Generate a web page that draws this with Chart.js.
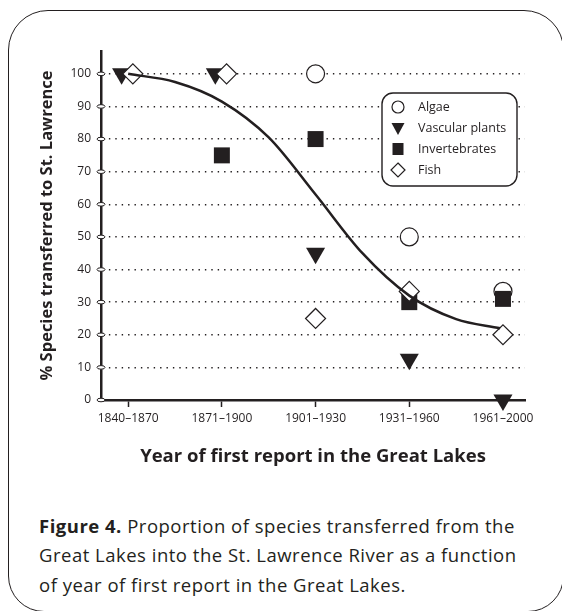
<!DOCTYPE html>
<html>
<head>
<meta charset="utf-8">
<script src="https://cdn.jsdelivr.net/npm/chart.js@4.4.0/dist/chart.umd.min.js"></script>
<style>
  body { margin: 0; background: #fff; }
  #wrap { position: relative; width: 562px; height: 611px; overflow: hidden; font-family: "Open Sans", sans-serif; color: #231f20; }
  #frame { position: absolute; left: 8px; top: 10px; width: 556px; height: 602px; border: 1.4px solid #231f20; border-radius: 40px 40px 36px 36px; box-sizing: border-box; }
  #chartBox { position: absolute; left: 0; top: 0; width: 562px; height: 480px; }
  #caption { position: absolute; left: 39px; top: 511px; margin: 0; font-size: 18.5px; letter-spacing: 0.5px; line-height: 29.3px; white-space: nowrap; }
</style>
</head>
<body>
<div id="wrap">
  <div id="frame"></div>
  <div id="chartBox"><canvas id="myChart" width="562" height="480"></canvas></div>
  <p id="caption"><b>Figure 4.</b> Proportion of species transferred from the<br>Great Lakes into the St. Lawrence River as a function<br>of year of first report in the Great Lakes.</p>
</div>
<script>
const categories = ['1840–1870', '1871–1900', '1901–1930', '1931–1960', '1961–2000']
const yTicks = [0, 10, 20, 30, 40, 50, 60, 70, 80, 90, 100]

// % of species transferred, per period (null = no point)
const algae = [null, null, 100, 50, 33.3]
const vascularPlants = [100, 100, 45, 12.5, 0]
const invertebrates = [null, 75, 80, 30, 31]
const fish = [100, 100, 25, 33.3, 20]

// small sideways nudges where markers overlap in the original
const vascularShift = [-0.07, -0.07, 0, 0, 0]
const fishShift = [0.05, 0.05, 0, 0, 0]

// fitted curve
const curveX = [0, 0.5, 1, 1.5, 2, 2.5, 3, 3.5, 3.97]
const curveY = [100, 97.5, 91.5, 80.5, 63, 45, 32, 24.8, 22]

const ink = '#231f20'
Chart.defaults.font.family = '"Open Sans", sans-serif'
Chart.defaults.color = ink

function toPoints(values, shift) {
    const pts = []
    values.forEach((v, i) => {
        if (v !== null) pts.push({ x: i + (shift ? shift[i] : 0), y: v })
    })
    return pts
}

const legendItems = [
    { label: 'Algae', shape: 'circle' },
    { label: 'Vascular plants', shape: 'triangle' },
    { label: 'Invertebrates', shape: 'square' },
    { label: 'Fish', shape: 'diamond' },
]

const extras = {
    id: 'extras',
    afterDraw(chart) {
        const ctx = chart.ctx
        const yScale = chart.scales.y
        const x0 = chart.chartArea.left
        ctx.save()
        // little oval tick marks on the y axis
        ctx.lineWidth = 1
        ctx.strokeStyle = ink
        ctx.fillStyle = '#fff'
        yTicks.forEach(v => {
            const y = yScale.getPixelForValue(v)
            ctx.beginPath()
            ctx.ellipse(x0, y, 4, 1.8, 0, 0, Math.PI * 2)
            ctx.fill()
            ctx.stroke()
        })

        // legend box
        const bx = 382, by = 93, bw = 135, bh = 93
        ctx.beginPath()
        ctx.roundRect(bx, by, bw, bh, 11)
        ctx.fillStyle = '#fff'
        ctx.fill()
        ctx.lineWidth = 1.4
        ctx.stroke()
        ctx.font = '12.5px "Open Sans", sans-serif'
        ctx.textBaseline = 'middle'
        legendItems.forEach((item, i) => {
            const mx = 398, my = 107 + i * 21
            ctx.beginPath()
            ctx.lineWidth = 1.2
            if (item.shape === 'circle') {
                ctx.arc(mx, my, 6, 0, Math.PI * 2)
                ctx.fillStyle = '#fff'; ctx.fill(); ctx.stroke()
            } else if (item.shape === 'triangle') {
                ctx.moveTo(mx - 6.5, my - 5); ctx.lineTo(mx + 6.5, my - 5); ctx.lineTo(mx, my + 7); ctx.closePath()
                ctx.fillStyle = ink; ctx.fill()
            } else if (item.shape === 'square') {
                ctx.rect(mx - 5.5, my - 6, 11, 12)
                ctx.fillStyle = ink; ctx.fill()
            } else {
                ctx.moveTo(mx, my - 7); ctx.lineTo(mx + 7, my); ctx.lineTo(mx, my + 7); ctx.lineTo(mx - 7, my); ctx.closePath()
                ctx.fillStyle = '#fff'; ctx.fill(); ctx.stroke()
            }
            ctx.fillStyle = ink
            ctx.fillText(item.label, 418, my + 0.5)
        })
        ctx.restore()
    }
}

const ctx = document.getElementById('myChart').getContext('2d')

const myChart = new Chart(ctx, {
    type: 'scatter',
    data: {
        datasets: [
            {
                label: 'fit',
                type: 'line',
                data: curveX.map((x, i) => ({ x: x, y: curveY[i] })),
                borderColor: ink,
                borderWidth: 2.5,
                pointRadius: 0,
                cubicInterpolationMode: 'monotone',
                fill: false,
                order: 0,
                clip: false,
            },
            {
                label: 'Fish',
                data: toPoints(fish, fishShift),
                pointStyle: 'rectRot',
                pointRadius: 10,
                backgroundColor: '#fff',
                borderColor: ink,
                borderWidth: 1.2,
                order: 1,
                clip: false,
            },
            {
                label: 'Invertebrates',
                data: toPoints(invertebrates),
                pointStyle: 'rect',
                pointRadius: 11.3,
                backgroundColor: ink,
                borderColor: ink,
                borderWidth: 0,
                order: 2,
                clip: false,
            },
            {
                label: 'Vascular plants',
                data: toPoints(vascularPlants, vascularShift),
                pointStyle: 'triangle',
                rotation: 180,
                pointRadius: 11,
                backgroundColor: ink,
                borderColor: ink,
                borderWidth: 0,
                order: 3,
                clip: false,
            },
            {
                label: 'Algae',
                data: toPoints(algae),
                pointStyle: 'circle',
                pointRadius: 9,
                backgroundColor: '#fff',
                borderColor: ink,
                borderWidth: 1.2,
                order: 4,
                clip: false,
            },
        ],
    },
    options: {
        responsive: false,
        animation: false,
        layout: { padding: { left: 37, right: 37, top: 51, bottom: 10 } },
        plugins: {
            legend: { display: false },
            tooltip: { enabled: false },
        },
        scales: {
            x: {
                type: 'linear',
                min: -0.29,
                max: 4.235,
                afterBuildTicks: s => { s.ticks = categories.map((c, i) => ({ value: i })) },
                afterFit: s => { s.height = 70 },
                ticks: {
                    callback: v => categories[v],
                    font: { size: 12 },
                    padding: 4,
                    maxRotation: 0,
                    autoSkip: false,
                },
                grid: { drawOnChartArea: false, drawTicks: true, tickLength: 7, tickWidth: 1.5, tickColor: ink },
                border: { display: true, width: 2.5, color: ink },
                title: {
                    display: true,
                    text: 'Year of first report in the Great Lakes',
                    font: { size: 18.5, weight: 'bold' },
                    padding: { top: 0, bottom: 2 },
                },
            },
            y: {
                min: 0,
                max: 107,
                afterBuildTicks: s => { s.ticks = yTicks.map(v => ({ value: v })) },
                afterFit: s => { s.width = 64 },
                ticks: { font: { size: 12 }, padding: 10 },
                grid: { drawTicks: false, color: ink, lineWidth: 1.4 },
                border: { display: true, width: 2.5, color: ink, dash: [1.4, 5] },
                title: {
                    display: true,
                    text: '% Species transferred to St. Lawrence',
                    font: { size: 16.5, weight: 'bold' },
                    padding: 0,
                },
            },
        },
    },
    plugins: [extras],
});
</script>
</body>
</html>
